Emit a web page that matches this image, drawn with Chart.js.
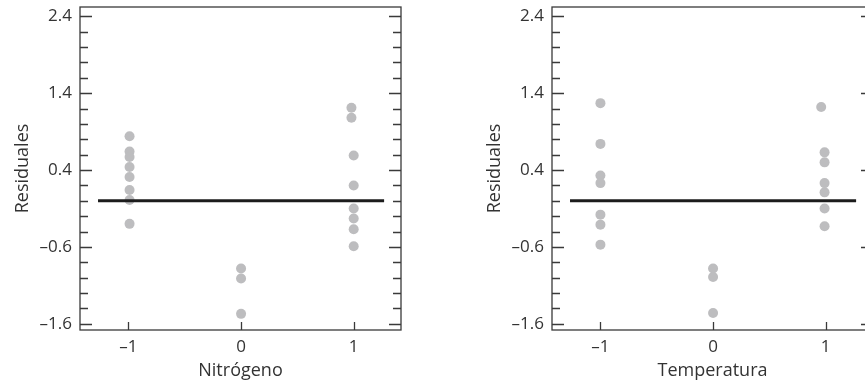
<!DOCTYPE html>
<html>
<head>
<meta charset="utf-8">
<script src="https://cdn.jsdelivr.net/npm/chart.js@4"></script>
<style>
  html, body { margin: 0; padding: 0; background: #fff; overflow: hidden; }
  #wrap { position: relative; width: 865px; height: 383px; overflow: hidden; }
  canvas { position: absolute; top: 0; }
</style>
</head>
<body>
<div id="wrap">
  <canvas id="nitro" width="430" height="383" style="left:0px"></canvas>
  <canvas id="temp" width="430" height="383" style="left:472px"></canvas>
</div>
<script>
// residuals
const nitroX = [-0.99, -0.99, -0.99, -0.99, -0.99, -0.99, -0.99, -0.99,
                0, 0, 0,
                0.98, 0.98, 1, 1, 1, 1, 1, 1];
const nitroY = [0.84, 0.64, 0.57, 0.44, 0.31, 0.14, 0.01, -0.30,
                -0.88, -1.01, -1.47,
                1.21, 1.08, 0.59, 0.20, -0.10, -0.23, -0.37, -0.59];

const tempX = [-1, -1, -1, -1, -1, -1, -1,
               0, 0, 0,
               0.96, 0.99, 0.99, 0.99, 0.99, 0.99, 0.99];
const tempY = [1.27, 0.74, 0.33, 0.23, -0.18, -0.31, -0.57,
               -0.88, -0.99, -1.46,
               1.22, 0.63, 0.50, 0.23, 0.11, -0.10, -0.33];

const zeroLineX = [-1.27, 1.27];
const xTickLabels = [-1, 0, 1];
const yTickLabels = [-1.6, -0.6, 0.4, 1.4, 2.4];
const yMinorStep = 0.2;

const FONT = "'Open Sans', 'Noto Sans', sans-serif";

function fmt(v) {
    return String(v).replace('-', '\u2013');
}

// box + inward tick marks
const frame = {
    id: 'frame',
    beforeDatasetsDraw(chart) {
        const {ctx, chartArea: a, scales: {x, y}} = chart;
        ctx.save();
        ctx.strokeStyle = '#3a3a3a';
        ctx.lineWidth = 1.3;
        ctx.strokeRect(a.left, a.top, a.right - a.left, a.bottom - a.top);
        ctx.beginPath();
        y.ticks.forEach(t => {
            const py = Math.round(y.getPixelForValue(t.value)) + 0.5;
            const len = t.major ? 12 : 8;
            ctx.moveTo(a.left, py); ctx.lineTo(a.left + len, py);
            ctx.moveTo(a.right, py); ctx.lineTo(a.right - len, py);
        });
        x.ticks.forEach(t => {
            const px = Math.round(x.getPixelForValue(t.value)) + 0.5;
            ctx.moveTo(px, a.bottom); ctx.lineTo(px, a.bottom - 8);
        });
        ctx.stroke();
        ctx.restore();
    }
};

function drawChart(name, xs, ys, xTitle) {
    let points = xs.map((v, i) => ({x: v, y: ys[i]}));
    let zero = zeroLineX.map(v => ({x: v, y: 0}));

    let ctx = document.getElementById(name).getContext('2d');

    new Chart(ctx, {
        type: 'scatter',
        data: {
            datasets: [{
                type: 'line',
                data: zero,
                borderColor: '#1c1c1c',
                borderWidth: 3,
                pointRadius: 0,
                order: 0
            }, {
                data: points,
                backgroundColor: '#bdbdbf',
                borderWidth: 0,
                pointRadius: 5,
                order: 1
            }]
        },
        options: {
            responsive: false,
            animation: false,
            layout: { padding: { left: 0, top: 7, right: 29, bottom: 0 } },
            plugins: { legend: { display: false }, tooltip: { enabled: false } },
            scales: {
                x: {
                    min: -1.43,
                    max: 1.42,
                    afterBuildTicks: axis => {
                        axis.ticks = xTickLabels.map(v => ({value: v}));
                    },
                    afterFit: axis => {
                        axis.height = 53;
                        axis.paddingLeft = 0;
                        axis.paddingRight = 0;
                    },
                    grid: { display: false, drawTicks: false },
                    border: { display: false },
                    ticks: {
                        color: '#333',
                        padding: 7,
                        maxRotation: 0,
                        font: { family: FONT, size: 17 },
                        callback: v => fmt(v)
                    },
                    title: {
                        display: true,
                        text: xTitle,
                        color: '#333',
                        padding: { top: 0, bottom: 1 },
                        font: { family: FONT, size: 18 }
                    }
                },
                y: {
                    min: -1.68,
                    max: 2.52,
                    afterBuildTicks: axis => {
                        let ticks = [];
                        for (let i = 0; i <= 20; i++) {
                            let v = Math.round((yTickLabels[0] + i * yMinorStep) * 10) / 10;
                            ticks.push({value: v, major: yTickLabels.includes(v)});
                        }
                        axis.ticks = ticks;
                    },
                    afterFit: axis => {
                        axis.width = 80;
                        axis.paddingTop = 0;
                        axis.paddingBottom = 0;
                    },
                    grid: { display: false, drawTicks: false },
                    border: { display: false },
                    ticks: {
                        color: '#333',
                        padding: 8,
                        autoSkip: false,
                        font: { family: FONT, size: 17 },
                        callback: v => yTickLabels.includes(v) ? fmt(v.toFixed(1)) : ''
                    },
                    title: {
                        display: true,
                        text: 'Residuales',
                        color: '#333',
                        padding: { top: 12, bottom: 0 },
                        font: { family: FONT, size: 18 }
                    }
                }
            }
        },
        plugins: [frame]
    });
}

drawChart('nitro', nitroX, nitroY, 'Nitrógeno');
drawChart('temp', tempX, tempY, 'Temperatura');
</script>
</body>
</html>
